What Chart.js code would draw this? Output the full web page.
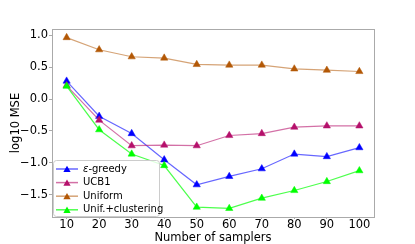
<!DOCTYPE html>
<html>
<head>
<meta charset="utf-8">
<script src="https://cdn.jsdelivr.net/npm/chart.js@4"></script>
<style>
  html, body { margin: 0; padding: 0; background: #fff; }
  #wrap { width: 415px; height: 244px; }
</style>
</head>
<body>
<div id="wrap"><canvas id="c" width="415" height="244"></canvas></div>
<script>
// data
const samplers = [10, 20, 30, 40, 50, 60, 70, 80, 90, 100];
const eGreedy = [0.28, -0.27, -0.54, -0.95, -1.34, -1.21, -1.09, -0.86, -0.90, -0.76];
const ucb1 = [0.21, -0.33, -0.73, -0.72, -0.73, -0.57, -0.54, -0.44, -0.42, -0.42];
const uniform = [0.96, 0.77, 0.66, 0.64, 0.54, 0.53, 0.53, 0.47, 0.45, 0.43];
const unifClustering = [0.20, -0.48, -0.86, -1.04, -1.69, -1.71, -1.55, -1.43, -1.29, -1.12];
const seriesLabels = ['ε-greedy', 'UCB1', 'Uniform', 'Unif.+clustering'];
const xTicks = [10, 20, 30, 40, 50, 60, 70, 80, 90, 100];
const yTicks = [-1.5, -1.0, -0.5, 0.0, 0.5, 1.0];

const FONT = '"DejaVu Sans", sans-serif';
const markerColors = ['#0000ff', '#b5106b', '#b35806', '#00ff00'];
const lineColors = ['rgba(0,0,255,0.6)', 'rgba(181,16,107,0.6)', 'rgba(179,88,6,0.55)', 'rgba(0,255,0,0.7)'];
const seriesData = [eGreedy, ucb1, uniform, unifClustering];

function makeSet(i) {
    return {
        label: seriesLabels[i],
        data: samplers.map((x, k) => ({ x: x, y: seriesData[i][k] })),
        borderColor: lineColors[i],
        borderWidth: 1.2,
        pointStyle: 'triangle',
        pointRadius: 4.2,
        pointBorderWidth: 0.5,
        pointBackgroundColor: markerColors[i],
        pointBorderColor: markerColors[i],
        tension: 0,
        order: 4 - i
    };
}

// spines around the plot area plus matplotlib-like legend box
const framePlugin = {
    id: 'frame',
    afterDatasetsDraw(chart) {
        const { ctx, chartArea: a } = chart;
        ctx.save();
        ctx.strokeStyle = '#aaaaaa';
        ctx.lineWidth = 1;
        ctx.strokeRect(Math.round(a.left) + 0.5, Math.round(a.top) + 0.5,
            Math.round(a.right - a.left), Math.round(a.bottom - a.top));

        // legend, lower left
        const bx = Math.round(a.left) + 1, bw = 106, bh = 57;
        const by = Math.round(a.bottom) - bh;
        ctx.fillStyle = 'rgba(255,255,255,0.8)';
        ctx.strokeStyle = '#cccccc';
        ctx.beginPath();
        ctx.roundRect(bx + 0.5, by + 0.5, bw, bh - 1, 3);
        ctx.fill();
        ctx.stroke();

        ctx.font = '10px ' + FONT;
        ctx.textBaseline = 'middle';
        chart.data.datasets.forEach((ds, i) => {
            const y = by + 9 + i * 13.6;
            ctx.strokeStyle = lineColors[i];
            ctx.lineWidth = 1.5;
            ctx.beginPath();
            ctx.moveTo(bx + 3, y);
            ctx.lineTo(bx + 25, y);
            ctx.stroke();
            const r = 4.2, cx = bx + 14;
            ctx.fillStyle = markerColors[i];
            ctx.beginPath();
            for (let k = 0; k < 3; k++) {
                const ang = k * 2 * Math.PI / 3;
                const px = cx + Math.sin(ang) * r, py = y + 1 - Math.cos(ang) * r;
                if (k === 0) ctx.moveTo(px, py); else ctx.lineTo(px, py);
            }
            ctx.closePath();
            ctx.fill();
            ctx.fillStyle = '#000';
            let tx = bx + 30;
            let text = ds.label;
            if (text.startsWith('ε')) {
                ctx.font = 'italic 10px ' + FONT;
                ctx.fillText('ε', tx, y);
                tx += ctx.measureText('ε').width;
                ctx.font = '10px ' + FONT;
                text = text.slice(1);
            }
            ctx.fillText(text, tx, y);
        });
        ctx.restore();
    }
};

const fmt = v => (v < 0 ? '\u2212' : '') + Math.abs(v).toFixed(1);

new Chart(document.getElementById('c'), {
    type: 'line',
    data: { datasets: [0, 1, 2, 3].map(makeSet) },
    options: {
        responsive: false,
        animation: false,
        layout: { padding: { left: 0, right: 41, top: 29, bottom: 0 } },
        plugins: { legend: { display: false }, tooltip: { enabled: false } },
        scales: {
            x: {
                type: 'linear',
                min: 5.5,
                max: 104.5,
                afterBuildTicks: s => { s.ticks = xTicks.map(v => ({ value: v })); },
                afterFit: s => { s.height = 27; },
                border: { display: false },
                grid: { drawOnChartArea: false, drawTicks: true, tickLength: 2, color: '#aaaaaa' },
                ticks: { color: '#000', font: { family: FONT, size: 11.5, lineHeight: 1.0 }, padding: 0, maxRotation: 0, callback: v => String(v) },
                title: { display: true, text: 'Number of samplers', color: '#000', font: { family: FONT, size: 11.5, lineHeight: 1.0 }, padding: { top: 0, bottom: 0 } }
            },
            y: {
                min: -1.844,
                max: 1.094,
                afterBuildTicks: s => { s.ticks = yTicks.map(v => ({ value: v })); },
                afterFit: s => { s.width = 52; },
                border: { display: false },
                grid: { drawOnChartArea: false, drawTicks: true, tickLength: 3, color: '#aaaaaa' },
                ticks: { color: '#000', font: { family: FONT, size: 11.5 }, padding: 1, callback: v => fmt(v) },
                title: { display: true, text: 'log10 MSE', color: '#000', font: { family: FONT, size: 11.5 }, padding: { top: 9, bottom: 0 } }
            }
        }
    },
    plugins: [framePlugin]
});
</script>
</body>
</html>
